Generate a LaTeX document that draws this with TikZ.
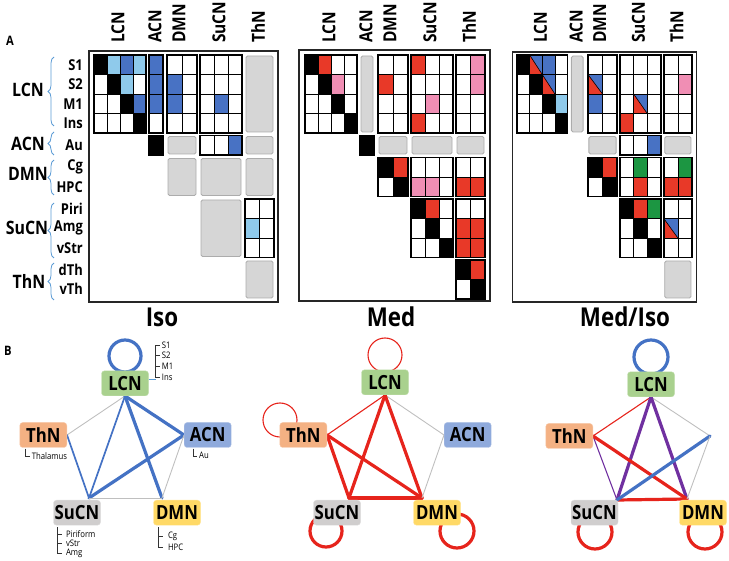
\documentclass[tikz,border=0pt]{standalone}
\usepackage{fontspec}
\setmainfont{Open Sans}
\newfontfamily\segoe[FakeStretch=0.86]{Open Sans}
\usetikzlibrary{calc,decorations.pathreplacing}

\definecolor{mblue}{RGB}{72,114,196}
\definecolor{lblue}{RGB}{143,202,235}
\definecolor{mred}{RGB}{232,57,40}
\definecolor{mpink}{RGB}{240,142,180}
\definecolor{mgreen}{RGB}{28,150,66}
\definecolor{grayblk}{RGB}{214,214,214}
\definecolor{lcngreen}{RGB}{169,209,142}
\definecolor{acnblue}{RGB}{143,170,220}
\definecolor{thnorange}{RGB}{244,177,131}
\definecolor{sucngray}{RGB}{208,206,206}
\definecolor{dmnyellow}{RGB}{255,217,102}
\definecolor{eblue}{RGB}{68,114,196}
\definecolor{ered}{RGB}{230,36,28}
\definecolor{epurple}{RGB}{112,48,160}
\definecolor{braceblue}{RGB}{91,155,213}

% cell grid of the matrices (pixels)
\def\colx{{0,13,26,39,55,73,88,106,120,134,151,165.5}}
\def\colw{{13,13,13,13,14,15,15,14,14,14,14.5,14.5}}
\def\rowy{{55,74.5,94,113.5,135.5,157.5,177,199,218.5,238,260,279.5}}
\def\grpstart{{0,4,5,7,10}}
\def\grpsize{{4,1,2,3,2}}
\def\grpw{{52,14,30,42,29}}
\def\splitname{split}

\tikzset{
    cellline/.style = {draw=black, line width=0.6pt},
    blockline/.style = {draw=black, line width=1.6pt},
    emptyblk/.style = {fill=grayblk, draw=gray!65, line width=0.9pt, rounded corners=1.5pt},
    panelframe/.style = {draw=black!85, line width=1.1pt},
    colhead/.style = {rotate=90, anchor=west, inner sep=0pt, font=\segoe\bfseries\fontsize{18}{18}\selectfont},
    rowlbl/.style = {anchor=east, inner sep=0pt, font=\segoe\bfseries\fontsize{15}{15}\selectfont},
    grplbl/.style = {inner sep=0pt, font=\segoe\bfseries\fontsize{18.5}{19}\selectfont},
    grpbrace/.style = {draw=braceblue, line width=0.8pt, decorate, decoration={brace, amplitude=6pt}},
    paneltitle/.style = {font=\segoe\bfseries\fontsize{26}{26}\selectfont},
    panellbl/.style = {font=\segoe\bfseries\fontsize{13}{13}\selectfont},
    net/.style = {
        rectangle, 
        rounded corners=3pt, 
        minimum width=47pt, 
        minimum height=25pt, 
        inner sep=1pt, 
        font=\segoe\bfseries\fontsize{19.5}{20}\selectfont
    },
    lcnbox/.style = {net, fill=lcngreen, draw=lcngreen!70!white},
    acnbox/.style = {net, fill=acnblue, draw=acnblue!70!white},
    thnbox/.style = {net, fill=thnorange, draw=thnorange!70!white},
    sucnbox/.style = {net, fill=sucngray, draw=sucngray!70!white},
    dmnbox/.style = {net, fill=dmnyellow, draw=dmnyellow!70!white},
    sublbl/.style = {anchor=west, inner sep=0pt, font=\segoe\fontsize{9}{9}\selectfont},
    brk/.style = {draw=black!80, line width=0.7pt},
    gline/.style = {draw=gray!50, line width=0.9pt},
    thinl/.style = {draw=#1, line width=1.1pt, line cap=round},
    midl/.style = {draw=#1, line width=1.7pt, line cap=round},
    thickl/.style = {draw=#1, line width=3.2pt, line cap=round}
}

% one cell: row, column, colour (or split)
\newcommand{\mcell}[3]{%
  \pgfmathsetmacro\cellX{\colx[#2]}%
  \pgfmathsetmacro\cellW{\colw[#2]}%
  \pgfmathsetmacro\cellY{\rowy[#1]}%
  \edef\cellC{#3}%
  \ifx\cellC\splitname
    \fill[mblue] (\cellX,\cellY) rectangle ++(\cellW,19.5);
    \fill[mred] (\cellX,\cellY) -- ++(0,19.5) -- ++(\cellW,0) -- cycle;
    \draw[cellline] (\cellX,\cellY) -- ++(\cellW,19.5);
    \draw[cellline] (\cellX,\cellY) rectangle ++(\cellW,19.5);
  \else
    \draw[cellline, fill=\cellC] (\cellX,\cellY) rectangle ++(\cellW,19.5);
  \fi}

% block of cells: row group, column group, coloured cells
\newcommand{\mblock}[3]{%
  \pgfmathtruncatemacro\rA{\grpstart[#1]}%
  \pgfmathtruncatemacro\rN{\grpsize[#1]}%
  \pgfmathtruncatemacro\cA{\grpstart[#2]}%
  \pgfmathtruncatemacro\cN{\grpsize[#2]}%
  \foreach \mr in {1,...,\rN}{%
    \foreach \mc in {1,...,\cN}{%
      \pgfmathtruncatemacro\ci{\rA+\mr-1}%
      \pgfmathtruncatemacro\cj{\cA+\mc-1}%
      \mcell{\ci}{\cj}{white}}}%
  \def\tmpspec{#3}%
  \ifx\tmpspec\empty\else
    \foreach \mr/\mc/\col in {#3}{%
      \pgfmathtruncatemacro\ci{\rA+\mr}%
      \pgfmathtruncatemacro\cj{\cA+\mc}%
      \mcell{\ci}{\cj}{\col}}%
  \fi
  \pgfmathsetmacro\bX{\colx[\cA]}%
  \pgfmathsetmacro\bY{\rowy[\rA]}%
  \pgfmathsetmacro\bW{\grpw[#2]}%
  \pgfmathsetmacro\bH{19.5*\rN}%
  \draw[blockline] (\bX,\bY) rectangle ++(\bW,\bH);}

% empty (gray) block: row group, column group
\newcommand{\gblock}[2]{%
  \pgfmathtruncatemacro\rA{\grpstart[#1]}%
  \pgfmathtruncatemacro\rN{\grpsize[#1]}%
  \pgfmathtruncatemacro\cA{\grpstart[#2]}%
  \pgfmathsetmacro\bX{\colx[\cA]+1}%
  \pgfmathsetmacro\bY{\rowy[\rA]+1}%
  \pgfmathsetmacro\bW{\grpw[#2]-2}%
  \pgfmathsetmacro\bH{19.5*\rN-2}%
  \draw[emptyblk] (\bX,\bY) rectangle ++(\bW,\bH);}

\begin{document}
\begin{tikzpicture}[x=1pt, y=-1pt]
\useasboundingbox (0,0) rectangle (729,561);

% ---------- A: matrices ----------
\node[panellbl] (labA) at (10,41) {A};

\foreach \lbl [count=\k from 0] in {S1,S2,M1,Ins,Au,Cg,HPC,Piri,Amg,vStr,dTh,vTh} {
    \pgfmathsetmacro\ly{\rowy[\k]+9.75}
    \node[rowlbl] (row\k) at (83,\ly) {\lbl};
}
\node[grplbl] (gLCN) at (28,90) {LCN};
\node[grplbl] (gACN) at (28,144) {ACN};
\node[grplbl] (gDMN) at (28,174) {DMN};
\node[grplbl] (gSuCN) at (27,228) {SuCN};
\node[grplbl] (gThN) at (29,281) {ThN};
\draw[grpbrace] (54,126) -- (54,57);
\draw[grpbrace] (54,155) -- (54,132);
\draw[grpbrace] (54,195) -- (54,160);
\draw[grpbrace] (54,258) -- (54,203);
\draw[grpbrace] (54,300) -- (54,263);

% Iso
\begin{scope}[shift={(94,0)}]
\draw[panelframe] (-5,51) rectangle (184,302);
\mblock{0}{0}{0/0/black, 0/1/lblue, 0/2/mblue, 0/3/lblue, 1/1/black, 1/2/lblue, 2/2/black, 2/3/mblue, 3/3/black}
\mblock{0}{1}{0/0/mblue, 1/0/mblue, 2/0/mblue}
\mblock{0}{2}{1/0/mblue, 2/0/mblue}
\mblock{0}{3}{2/1/mblue}
\gblock{0}{4}
\mblock{1}{1}{0/0/black}
\gblock{1}{2}
\mblock{1}{3}{0/2/mblue}
\gblock{1}{4}
\gblock{2}{2}
\gblock{2}{3}
\gblock{2}{4}
\gblock{3}{3}
\mblock{3}{4}{1/0/lblue}
\gblock{4}{4}
\node[colhead] (hLCNa) at (24,43) {LCN};
\node[colhead] (hACNa) at (61,43) {ACN};
\node[colhead] (hDMNa) at (85,43) {DMN};
\node[colhead] (hSuCNa) at (125,43) {SuCN};
\node[colhead] (hThNa) at (164,43) {ThN};
\end{scope}

% Med
\begin{scope}[shift={(305,0)}]
\draw[panelframe] (-6,50) rectangle (185,301);
\mblock{0}{0}{0/0/black, 0/1/mred, 1/1/black, 1/2/mpink, 2/2/black, 3/3/black}
\gblock{0}{1}
\mblock{0}{2}{1/0/mred}
\mblock{0}{3}{0/0/mred, 2/1/mpink, 3/0/mred}
\mblock{0}{4}{0/1/mpink, 1/1/mpink}
\mblock{1}{1}{0/0/black}
\gblock{1}{2}
\gblock{1}{3}
\gblock{1}{4}
\mblock{2}{2}{0/0/black, 0/1/mred, 1/1/black}
\mblock{2}{3}{1/0/mpink, 1/1/mpink}
\mblock{2}{4}{1/0/mred, 1/1/mred}
\mblock{3}{3}{0/0/black, 0/1/mred, 1/1/black, 2/2/black}
\mblock{3}{4}{1/0/mred, 1/1/mred, 2/0/mred, 2/1/mred}
\mblock{4}{4}{0/0/black, 0/1/mred, 1/1/black}
\node[colhead] (hLCNb) at (24,43) {LCN};
\node[colhead] (hACNb) at (61,43) {ACN};
\node[colhead] (hDMNb) at (85,43) {DMN};
\node[colhead] (hSuCNb) at (125,43) {SuCN};
\node[colhead] (hThNb) at (164,43) {ThN};
\end{scope}

% Med/Iso
\begin{scope}[shift={(517,0)}, xscale=0.972]
\draw[panelframe] (-5,52) rectangle (185,302);
\mblock{0}{0}{0/0/black, 0/1/split, 0/2/mblue, 1/1/black, 1/2/split, 2/2/black, 2/3/lblue, 3/3/black}
\gblock{0}{1}
\mblock{0}{2}{1/0/split, 2/0/mblue}
\mblock{0}{3}{2/1/split, 3/0/mred}
\mblock{0}{4}{1/1/mpink}
\gblock{1}{2}
\mblock{1}{3}{0/2/mblue}
\gblock{1}{4}
\mblock{2}{2}{0/0/black, 0/1/mred, 1/1/black}
\mblock{2}{3}{0/1/mgreen, 1/1/mred}
\mblock{2}{4}{0/1/mgreen, 1/0/mred, 1/1/mred}
\mblock{3}{3}{0/0/black, 0/1/mred, 0/2/mgreen, 1/1/black, 2/2/black}
\mblock{3}{4}{1/0/split}
\gblock{4}{4}
\node[colhead] (hLCNc) at (24,43) {LCN};
\node[colhead] (hACNc) at (61,43) {ACN};
\node[colhead] (hDMNc) at (85,43) {DMN};
\node[colhead] (hSuCNc) at (125,43) {SuCN};
\node[colhead] (hThNc) at (164,43) {ThN};
\end{scope}

\node[paneltitle] (tIso) at (162,317) {Iso};
\node[paneltitle] (tMed) at (391,317) {Med};
\node[paneltitle] (tMedIso) at (625,317) {Med/Iso};

% ---------- B: networks ----------
\node[panellbl] (labB) at (8,351) {B};

% Iso
\coordinate (La) at (125,396);
\coordinate (Ta) at (67,435);
\coordinate (Aa) at (184,435);
\coordinate (Sa) at (89,498);
\coordinate (Da) at (162,498);
\draw[thickl=eblue] ($(La)+(0,-40)$) circle[radius=16];
\draw[gline] (La) -- (Ta);
\draw[thickl=eblue] (La) -- (Aa);
\draw[midl=eblue] (La) -- (Sa);
\draw[thickl=eblue] (La) -- (Da);
\draw[midl=eblue] (Ta) -- (Sa);
\draw[thickl=eblue] (Aa) -- (Sa);
\draw[gline] (Aa) -- (Da);
\draw[gline] (Sa) -- (Da);
\node[lcnbox, anchor=south] (LCNa) at (La) {LCN};
\node[thnbox, anchor=east] (ThNa) at (Ta) {ThN};
\node[acnbox, anchor=west] (ACNa) at (Aa) {ACN};
\node[sucnbox, anchor=north] (SuCNa) at ($(Sa)+(-12,2)$) {SuCN};
\node[dmnbox, anchor=north] (DMNa) at ($(Da)+(15,2)$) {DMN};

% region lists
\node[sublbl] (lS1) at ($(LCNa.north east)+(13,-25)$) {S1};
\node[sublbl] (lS2) at ($(LCNa.north east)+(13,-15)$) {S2};
\node[sublbl] (lM1) at ($(LCNa.north east)+(13,-4)$) {M1};
\node[sublbl] (lIns) at ($(LCNa.north east)+(13,7)$) {Ins};
\draw[brk] ([xshift=-2pt]lS1.west) -- ([xshift=-6pt]lS1.west) -- ([xshift=-6pt]lIns.west) -- ([xshift=-2pt]lIns.west);
\draw[brk] ([xshift=-6pt]lS2.west) -- ([xshift=-2pt]lS2.west);
\draw[brk] ([xshift=-6pt]lM1.west) -- ([xshift=-2pt]lM1.west);
\draw[draw=braceblue, line width=0.8pt] ($(LCNa.east |- lIns.west)+(0,2)$) -- ($(lIns.west)+(-6,2)$);

\node[sublbl] (lThal) at ($(ThNa.south west)+(12,8)$) {Thalamus};
\draw[brk] ($(lThal.west)+(-6,-7)$) |- ($(lThal.west)+(-2,1)$);
\node[sublbl] (lAu) at ($(ACNa.south west)+(15,8)$) {Au};
\draw[brk] ($(lAu.west)+(-6,-7)$) |- ($(lAu.west)+(-2,1)$);

\node[sublbl] (lPiri) at ($(SuCNa.south west)+(12.5,9)$) {Piriform};
\node[sublbl] (lvStr) at ($(SuCNa.south west)+(12.5,18)$) {vStr};
\node[sublbl] (lAmg) at ($(SuCNa.south west)+(12.5,28)$) {Amg};
\draw[brk] ($(lPiri.west)+(-8,-7)$) -- ($(lAmg.west)+(-8,0)$) -- ($(lAmg.west)+(-4,0)$);
\draw[brk] ($(lPiri.west)+(-8,0)$) -- ($(lPiri.west)+(-4,0)$);
\draw[brk] ($(lvStr.west)+(-8,0)$) -- ($(lvStr.west)+(-4,0)$);

\node[sublbl] (lCg) at ($(DMNa.south west)+(14.5,11)$) {Cg};
\node[sublbl] (lHPC) at ($(DMNa.south west)+(14.5,22)$) {HPC};
\draw[brk] ($(lCg.west)+(-9,-9)$) -- ($(lHPC.west)+(-9,0)$) -- ($(lHPC.west)+(-5,0)$);
\draw[brk] ($(lCg.west)+(-9,0)$) -- ($(lCg.west)+(-5,0)$);

% Med
\begin{scope}[xshift=260pt]
\coordinate (Lb) at (125,395);
\coordinate (Tb) at (67,435);
\coordinate (Ab) at (184,435);
\coordinate (Sb) at (89,498);
\coordinate (Db) at (162,498);
\draw[thinl=ered] ($(Lb)+(0,-40)$) circle[radius=17];
\draw[thinl=ered] ($(Tb)+(-47,-15)$) circle[radius=17];
\draw[thickl=ered] ($(Sb)+(-23,33)$) circle[radius=16];
\draw[thickl=ered] ($(Db)+(35,33)$) circle[radius=17];
\draw[thinl=ered] (Lb) -- (Tb);
\draw[gline] (Lb) -- (Ab);
\draw[thickl=ered] (Lb) -- (Sb);
\draw[thickl=ered] (Lb) -- (Db);
\draw[thickl=ered] (Tb) -- (Sb);
\draw[thickl=ered] (Tb) -- (Db);
\draw[thickl=ered] (Sb) -- (Db);
\draw[gline] (Ab) -- (Db);
\node[lcnbox, anchor=south] (LCNb) at (Lb) {LCN};
\node[thnbox, anchor=east] (ThNb) at (Tb) {ThN};
\node[acnbox, anchor=west] (ACNb) at (Ab) {ACN};
\node[sucnbox, anchor=north] (SuCNb) at ($(Sb)+(-12,2)$) {SuCN};
\node[dmnbox, anchor=north] (DMNb) at ($(Db)+(15,2)$) {DMN};
\end{scope}

% Med/Iso
\begin{scope}[xshift=526pt]
\coordinate (Lc) at (125,397);
\coordinate (Tc) at (67,436);
\coordinate (Ac) at (184,436);
\coordinate (Sc) at (91,500);
\coordinate (Dc) at (161,499);
\draw[thickl=eblue] ($(Lc)+(0,-40)$) circle[radius=17];
\draw[thickl=ered] ($(Sc)+(-22,32)$) circle[radius=17];
\draw[thickl=ered] ($(Dc)+(18,33)$) circle[radius=17];
\draw[thinl=ered] (Lc) -- (Tc);
\draw[gline] (Lc) -- (Ac);
\draw[thickl=epurple] (Lc) -- (Sc);
\draw[thickl=epurple] (Lc) -- (Dc);
\draw[thinl=epurple] (Tc) -- (Sc);
\draw[thickl=ered] (Tc) -- (Dc);
\draw[thickl=ered] (Sc) -- (Dc);
\draw[thickl=eblue] (Sc) -- (Ac);
\draw[gline] (Ac) -- (Dc);
\node[lcnbox, anchor=south] (LCNc) at (Lc) {LCN};
\node[thnbox, anchor=east] (ThNc) at (Tc) {ThN};
\node[sucnbox, anchor=north] (SuCNc) at ($(Sc)+(-22.5,0)$) {SuCN};
\node[dmnbox, anchor=north] (DMNc) at ($(Dc)+(16,1)$) {DMN};
\end{scope}

\end{tikzpicture}
\end{document}
